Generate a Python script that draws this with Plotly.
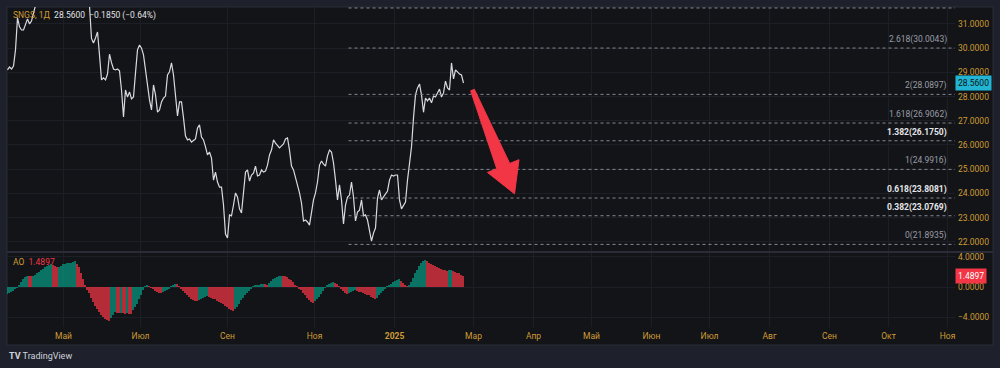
import plotly.graph_objects as go

# ---------------- data ----------------
PRICE = [
    29.10, 29.22, 29.14, 29.26, 29.93, 31.25, 30.88, 30.75, 30.75, 30.96,
    31.21, 31.00, 31.12, 31.45, 31.85, 32.10, 32.40, 32.25, 32.70, 32.95,
    32.70, 32.85, 33.10, 32.95, 32.60, 32.80, 32.45, 32.60, 32.90, 32.70,
    32.45, 32.30, 32.55, 32.35, 32.10, 32.25, 32.45, 32.20, 32.00, 31.90,
    31.80, 31.75, 30.40, 30.21, 30.42, 30.67, 29.72, 28.69, 28.77, 28.69,
    28.93, 29.75, 29.40, 29.14, 29.10, 29.14, 29.06, 28.27, 27.16, 28.27,
    27.98, 28.19, 27.90, 27.98, 28.98, 29.93, 30.13, 30.00, 29.72, 28.98,
    28.48, 27.86, 27.45, 28.48, 28.07, 27.36, 27.45, 27.78, 27.94, 28.02,
    28.89, 29.02, 29.39, 28.89, 27.86, 27.20, 27.78, 27.78, 27.12, 26.37,
    26.21, 26.25, 26.12, 26.17, 26.25, 26.70, 26.83, 26.33, 26.21, 25.92,
    25.59, 25.71, 25.46, 24.55, 24.88, 24.47, 24.26, 24.26, 23.52, 22.32,
    22.16, 23.11, 23.07, 23.52, 24.02, 23.85, 23.36, 23.19, 24.06, 24.88,
    24.97, 24.51, 24.76, 24.84, 25.13, 24.72, 24.76, 24.97, 24.88, 24.92,
    25.17, 25.59, 25.79, 26.21, 26.08, 26.00, 25.88, 25.96, 26.04, 26.25,
    26.29, 25.79, 25.13, 24.97, 24.68, 24.35, 24.02, 23.60, 22.86, 22.90,
    22.82, 22.69, 23.23, 23.73, 24.02, 24.47, 25.17, 25.34, 25.21, 25.13,
    25.55, 25.79, 25.71, 25.26, 24.55, 23.73, 24.35, 23.73, 22.74, 23.52,
    23.85, 23.93, 24.47, 23.85, 22.86, 23.23, 23.31, 23.73, 23.07, 23.11,
    22.90, 22.40, 22.03, 22.36, 22.57, 23.81, 24.14, 23.73, 23.85, 23.98,
    24.10, 24.55, 24.76, 24.72, 24.76, 24.76, 23.73, 23.36, 23.52, 23.64,
    24.55, 25.17, 25.92, 27.12, 28.07, 28.36, 28.52, 28.07, 27.35, 27.94,
    27.82, 27.94, 27.74, 28.02, 27.98, 28.15, 28.31, 27.98, 28.15, 28.64,
    28.36, 28.27, 29.39, 28.73, 29.10, 29.02, 28.93, 28.89, 28.56,
]

AO = [
    -0.90, -0.80, -0.65, -0.50, -0.30, -0.10, 0.30, 0.70, 1.00, 1.30,
    1.50, 1.48, 1.45, 1.50, 1.65, 1.80, 2.00, 2.20, 2.45, 2.70,
    2.85, 2.95, 3.05, 2.95, 2.80, 2.60, 2.70, 2.85, 3.00, 3.10,
    3.15, 3.20, 3.25, 3.35, 3.45, 3.10, 2.60, 1.90, 1.10, 0.30,
    -0.40, -0.80, -1.40, -1.95, -2.50, -2.90, -3.30, -3.70, -4.00, -4.20,
    -4.40, -4.50, -4.10, -3.70, -3.30, -3.40, -3.50, -3.45, -3.50, -3.55,
    -3.50, -3.55, -3.60, -3.00, -2.60, -2.20, -1.60, -1.00, -0.40, 0.10,
    0.25, 0.10, -0.10, -0.30, -0.50, -0.65, -0.80, -0.85, -0.70, -0.55,
    -0.40, -0.15, 0.10, 0.30, 0.45, 0.35, 0.10, -0.20, -0.50, -0.80,
    -1.10, -1.35, -1.55, -1.70, -1.80, -1.90, -1.75, -1.55, -1.40, -1.30,
    -1.25, -1.35, -1.45, -1.55, -1.65, -1.80, -1.95, -2.10, -2.30, -2.50,
    -2.70, -2.90, -3.10, -3.20, -2.90, -2.60, -2.30, -1.70, -1.40, -1.10,
    -0.80, -0.50, -0.20, 0.10, 0.20, 0.25, 0.30, 0.35, 0.40, 0.35,
    0.30, 0.55, 0.80, 1.00, 1.20, 1.35, 1.45, 1.50, 1.45, 1.40,
    1.30, 1.10, 0.90, 0.60, 0.30, 0.10, -0.20, -0.45, -0.75, -1.05,
    -1.40, -1.75, -2.00, -2.10, -1.90, -1.60, -1.30, -0.90, -0.50, -0.10,
    0.20, 0.40, 0.55, 0.60, 0.50, 0.35, 0.10, -0.20, -0.50, -0.80,
    -0.95, -0.85, -0.70, -0.55, -0.40, -0.50, -0.60, -0.70, -0.80, -0.90,
    -1.00, -1.10, -1.30, -1.45, -1.60, -1.40, -1.10, -0.80, -0.50, -0.20,
    0.05, 0.20, 0.40, 0.60, 0.75, 0.90, 1.00, 0.80, 0.55, 0.30,
    0.10, 0.20, 0.60, 1.20, 1.80, 2.30, 2.80, 3.20, 3.45, 3.60,
    3.40, 3.20, 3.05, 2.90, 2.75, 2.60, 2.50, 2.40, 2.30, 2.20,
    2.15, 2.20, 2.25, 2.10, 2.00, 1.90, 1.80, 1.65, 1.49,
]

X_TICK_POS = [28, 66.5, 110, 153.5, 193.5, 233, 263, 292, 322, 351, 381, 411, 440.5, 470]
X_TICK_TEXT = ["Май", "Июл", "Сен", "Ноя", "<b>2025</b>", "Мар", "Апр", "Май",
               "Июн", "Июл", "Авг", "Сен", "Окт", "Ноя"]
PRICE_TICKS = [22, 23, 24, 25, 26, 27, 28, 29, 30, 31]
AO_TICKS = [-4, 0, 4]

FIB_LEVELS = [0, 0.382, 0.618, 1, 1.382, 1.618, 2, 2.618]
FIB_PRICES = [21.8935, 23.0769, 23.8081, 24.9916, 26.1750, 26.9062, 28.0897, 30.0043]
FIB_BOLD = [False, True, True, False, True, False, False, False]
FIB_START = 170.5
FIB_LABEL_X = 470.5

LAST_PRICE = 28.5600
LAST_CHANGE = -0.1850
LAST_PCT = -0.64
LAST_AO = 1.4897

ARROW_FROM = (232.5, 28.27)
ARROW_TO = (253.5, 23.98)

# ---------------- style / layout ----------------
W, H = 1000, 368
OUTER = "#1e212b"
PANEL = "#131418"
GRID = "#1d1f26"
GOLD = "#cf9c35"
FONT = "Roboto"
TEAL = "#089981"
RED = "#f23645"
RED_BAR = "#f23645"
FS = 8.5

X_DOM = [7 / W, 955 / W]
X_RANGE = [-0.25, 473.75]
Y_DOM = [(H - 251) / H, (H - 7) / H]
Y_RANGE = [21.62, 31.70]
Y2_DOM = [(H - 327) / H, (H - 253) / H]
Y2_RANGE = [-5.33, 4.53]

x = list(range(len(PRICE)))
xa = list(range(len(AO)))
ao_colors = [TEAL if i == 0 or AO[i] >= AO[i - 1] else RED_BAR for i in range(len(AO))]

fig = go.Figure()
fig.add_trace(go.Scatter(x=x, y=PRICE, mode="lines", line=dict(color="#d8dae0", width=1.2),
                         xaxis="x", yaxis="y", hoverinfo="skip", showlegend=False))
fig.add_trace(go.Bar(x=xa, y=AO, width=0.7,
                     marker=dict(color=ao_colors, opacity=0.72, line=dict(width=0)),
                     xaxis="x2", yaxis="y2", hoverinfo="skip", showlegend=False))

shapes = []
annotations = []

# panel background
shapes.append(dict(type="rect", xref="paper", yref="paper", x0=7 / W, x1=993 / W,
                   y0=(H - 345) / H, y1=(H - 7) / H, fillcolor=PANEL,
                   line=dict(color="#2a2d37", width=1), layer="below"))
# pane separator
shapes.append(dict(type="line", xref="paper", yref="paper", x0=7 / W, x1=993 / W,
                   y0=(H - 252) / H, y1=(H - 252) / H, line=dict(color="#2a2d37", width=2)))

# fib levels
for lvl, p, bold in zip(FIB_LEVELS, FIB_PRICES, FIB_BOLD):
    shapes.append(dict(type="line", xref="x", yref="y", x0=FIB_START, x1=X_RANGE[1], y0=p, y1=p,
                       line=dict(color="#858892", width=1, dash="dot")))
    txt = f"{lvl:g}({p:.4f})"
    annotations.append(dict(x=FIB_LABEL_X, y=p, xref="x", yref="y", xanchor="right", yanchor="bottom",
                            text=f"<b>{txt}</b>" if bold else txt, showarrow=False, yshift=1,
                            font=dict(family=FONT, size=FS, color="#e6e7ea" if bold else "#9a9da6")))
# top boundary dotted line of the fib tool
shapes.append(dict(type="line", xref="x", yref="y domain", x0=FIB_START, x1=X_RANGE[1], y0=0.996, y1=0.996,
                   line=dict(color="#858892", width=1, dash="dot")))


# arrow drawing
def to_px(ix, p):
    px = X_DOM[0] * W + (ix - X_RANGE[0]) / (X_RANGE[1] - X_RANGE[0]) * (X_DOM[1] - X_DOM[0]) * W
    py = H - (Y_DOM[0] * H + (p - Y_RANGE[0]) / (Y_RANGE[1] - Y_RANGE[0]) * (Y_DOM[1] - Y_DOM[0]) * H)
    return px, py


tx, ty = to_px(*ARROW_FROM)
hx, hy = to_px(*ARROW_TO)
L = ((hx - tx) ** 2 + (hy - ty) ** 2) ** 0.5
ux, uy = (hx - tx) / L, (hy - ty) / L
nx, ny = -uy, ux
head_len, head_hw, neck_hw, tail_hw = 30, 17, 7, 2
bx, by = hx - ux * head_len, hy - uy * head_len
pts = [(tx + nx * tail_hw, ty + ny * tail_hw), (bx + nx * neck_hw, by + ny * neck_hw),
       (bx + nx * head_hw, by + ny * head_hw), (hx, hy), (bx - nx * head_hw, by - ny * head_hw),
       (bx - nx * neck_hw, by - ny * neck_hw), (tx - nx * tail_hw, ty - ny * tail_hw)]
path = "M " + " L ".join(f"{px / W:.5f},{1 - py / H:.5f}" for px, py in pts) + " Z"
shapes.append(dict(type="path", xref="paper", yref="paper", path=path, fillcolor=RED,
                   line=dict(color=RED, width=1)))

# header legend
annotations.append(dict(xref="paper", yref="paper", x=11 / W, y=1 - 16 / H, xanchor="left", yanchor="middle",
                        showarrow=False,
                        text=f"<span style='color:{GOLD}'>SNGS, 1Д</span>  {LAST_PRICE:.4f}  "
                             f"−{abs(LAST_CHANGE):.4f} (−{abs(LAST_PCT):.2f}%)",
                        font=dict(family=FONT, size=FS, color="#e0e2e6")))
annotations.append(dict(xref="paper", yref="paper", x=11 / W, y=1 - 262 / H, xanchor="left", yanchor="middle",
                        showarrow=False,
                        text=f"<span style='color:{GOLD}'>AO</span>  <span style='color:{RED}'>{LAST_AO:.4f}</span>",
                        font=dict(family=FONT, size=FS, color=RED)))
# last value badges
annotations.append(dict(xref="paper", yref="y", x=955 / W, y=LAST_PRICE, xanchor="left", yanchor="middle",
                        showarrow=False, text=f"{LAST_PRICE:.4f}", bgcolor="#22b5d3", borderpad=2,
                        font=dict(family=FONT, size=FS, color="#101216")))
annotations.append(dict(xref="paper", yref="y2", x=955 / W, y=LAST_AO, xanchor="left", yanchor="middle",
                        showarrow=False, text=f"{LAST_AO:.4f}", bgcolor=RED, borderpad=2,
                        font=dict(family=FONT, size=FS, color="#ffffff")))
# logo
annotations.append(dict(xref="paper", yref="paper", x=7 / W, y=1 - 356 / H, xanchor="left", yanchor="middle",
                        showarrow=False, text="<b>TV</b> TradingView",
                        font=dict(family=FONT, size=9, color="#d1d4dc")))

axis_font = dict(family=FONT, size=FS, color=GOLD)
fig.update_layout(
    width=W, height=H, autosize=False,
    margin=dict(l=0, r=0, t=0, b=0),
    paper_bgcolor=OUTER, plot_bgcolor=PANEL,
    bargap=0, showlegend=False,
    xaxis=dict(domain=X_DOM, range=X_RANGE, anchor="y", matches="x2", tickvals=X_TICK_POS,
               showticklabels=False, showgrid=True, gridcolor=GRID, zeroline=False, ticks=""),
    xaxis2=dict(domain=X_DOM, range=X_RANGE, anchor="y2", tickvals=X_TICK_POS, ticktext=X_TICK_TEXT,
                showgrid=True, gridcolor=GRID, zeroline=False, ticks="", tickfont=axis_font,
                ticklabelstandoff=2),
    yaxis=dict(domain=Y_DOM, range=Y_RANGE, side="right", anchor="x", tickvals=PRICE_TICKS,
               ticktext=[f"{v:.4f}" for v in PRICE_TICKS], showgrid=True, gridcolor=GRID,
               zeroline=False, ticks="", tickfont=axis_font, ticklabelstandoff=2),
    yaxis2=dict(domain=Y2_DOM, range=Y2_RANGE, side="right", anchor="x2", tickvals=AO_TICKS,
                ticktext=[("−" if v < 0 else "") + f"{abs(v):.4f}" for v in AO_TICKS], showgrid=True,
                gridcolor=GRID, zeroline=False, ticks="", tickfont=axis_font, ticklabelstandoff=2),
    shapes=shapes, annotations=annotations,
)

fig.write_html("out.html", config={"displayModeBar": False},
               post_script="document.body.style.margin='0';")
